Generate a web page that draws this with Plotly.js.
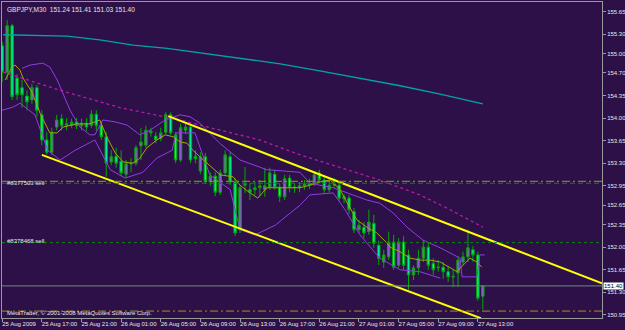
<!DOCTYPE html>
<html><head><meta charset="utf-8">
<script src="https://cdn.plot.ly/plotly-3.0.1.min.js"></script>
<style>html,body{margin:0;padding:0;background:#2d1048;}#chart{width:625px;height:330px;}</style>
</head><body><div id="chart"></div>
<script>
// ---- data (GBPJPY M30, 25-27 Aug 2009) ----
const headerText = "GBPJPY,M30  151.24 151.41 151.03 151.40";
const copyrightText = "MetaTrader, \u00a9 2001-2008 MetaQuotes Software Corp.";

const openP = [155.12,154.71,155.43,154.62,154.47,154.34,154.28,154.47,154.05,153.66,
153.47,153.86,153.99,153.89,153.89,153.94,153.88,153.92,153.89,154.06,
153.88,153.71,153.32,153.41,153.33,153.13,153.29,153.30,153.57,153.58,
153.77,153.72,153.68,153.78,154.05,153.74,153.35,153.81,153.86,153.41,
153.18,153.40,153.01,153.10,152.85,153.15,153.40,153.01,152.27,152.96,
152.89,152.89,152.92,152.89,152.93,153.13,152.93,152.78,153.07,152.92,
152.95,152.95,152.98,152.99,153.15,153.04,152.89,152.96,152.96,152.78,
152.76,152.55,152.27,152.31,152.24,152.37,152.03,151.77,151.85,152.08,
151.72,152.08,151.88,151.57,151.68,151.83,152.00,151.75,151.68,151.69,
151.62,151.55,151.60,151.77,151.85,151.96,151.88,151.24];
const highP = [155.18,155.52,155.46,154.68,154.59,154.43,154.53,154.51,154.12,153.78,
153.85,154.05,154.06,154.00,153.99,154.00,153.99,154.00,154.12,154.12,
153.94,153.78,153.50,153.54,153.50,153.35,153.38,153.58,153.85,153.88,
153.85,153.78,153.85,154.09,154.09,153.78,153.91,153.91,153.91,153.50,
153.47,153.46,153.16,153.16,153.20,153.50,153.47,153.07,152.96,153.24,
152.99,153.01,153.04,153.23,153.23,153.20,152.99,153.12,153.12,152.99,
153.01,153.04,153.06,153.16,153.20,153.10,153.02,153.07,153.01,152.82,
152.81,152.61,152.42,152.39,152.58,152.50,152.10,151.96,152.24,152.19,
152.14,152.17,151.96,151.72,151.96,152.11,152.08,151.83,151.80,151.77,
151.71,151.65,151.86,151.93,152.27,152.02,151.93,151.41];
const lowP = [154.56,154.59,154.28,154.28,154.16,154.12,154.22,154.02,153.58,153.43,
153.43,153.81,153.81,153.81,153.85,153.83,153.81,153.80,153.85,153.81,
153.66,153.09,153.27,153.23,153.10,153.07,153.16,153.26,153.35,153.54,
153.71,153.61,153.64,153.75,153.74,153.30,153.32,153.75,153.30,153.30,
153.13,152.98,152.95,152.79,152.81,153.10,152.96,152.17,152.22,152.84,
152.73,152.81,152.79,152.78,152.89,152.89,152.70,152.73,152.85,152.84,
152.85,152.89,152.90,152.95,152.99,152.84,152.85,152.92,152.72,152.68,
152.51,152.22,152.22,152.14,152.19,151.99,151.72,151.68,151.80,151.65,
151.68,151.65,151.34,151.49,151.57,151.77,151.65,151.57,151.62,151.51,
151.46,151.38,151.38,151.72,151.77,151.77,151.17,151.03];
const closeP = [154.71,155.43,154.33,154.36,154.36,154.25,154.47,154.12,153.66,153.47,
153.78,153.97,153.88,153.91,153.94,153.88,153.92,153.86,154.06,153.88,
153.71,153.30,153.40,153.30,153.15,153.29,153.30,153.54,153.63,153.81,
153.80,153.66,153.77,154.05,153.77,153.35,153.85,153.86,153.35,153.37,
153.40,153.02,153.10,152.85,153.15,153.43,153.01,152.22,152.92,152.99,
152.85,152.92,152.95,152.95,153.15,152.93,152.78,153.06,152.92,152.93,
152.93,152.98,152.96,153.12,153.04,152.89,152.96,152.98,152.76,152.75,
152.58,152.27,152.34,152.22,152.39,152.06,151.83,151.88,152.08,151.69,
152.08,151.72,151.57,151.68,151.83,152.00,151.72,151.65,151.69,151.62,
151.54,151.54,151.80,151.85,151.99,151.88,151.21,151.40];

// indicator lines (bar index, price) read at sample points
const maLongIdx = [0.2,8.2,13.1,19.7,26.4,33.3,39.9,48.0,56.1,64.1,72.2,80.3,88.4,97.0];
const maLongVal = [155.29,155.28,155.27,155.21,155.13,155.08,155.01,154.93,154.84,154.73,154.62,154.50,154.37,154.22];
const maMidIdx = [0.2,11.7,23.8,35.9,39.9,52.0,60.1,68.2,76.2,84.3,90.4,97.0];
const maMidVal = [154.71,154.43,154.16,153.97,153.89,153.66,153.43,153.23,153.04,152.81,152.58,152.31];
const maFastIdx = [0.6,2.0,2.6,3.6,4.2,6.0,7.2,7.6,9.6,11.1,12.3,15.1,17.7,19.7,21.1,22.8,24.4,26.4,27.8,29.2,31.2,32.9,34.5,35.9,37.3,38.5,39.9,41.9,44.0,46.6,48.0,50.0,51.6,53.4,56.7,60.1,62.1,64.1,66.2,68.2,69.6,71.6,73.6,75.6,77.7,78.3,80.3,82.3,84.3,86.3,88.4,90.4,91.8,93.0,94.4,95.8,96.8];
const maFastVal = [154.59,154.79,154.82,154.74,154.62,154.40,154.17,154.08,153.77,153.77,153.86,153.91,153.91,153.97,153.71,153.46,153.32,153.30,153.38,153.54,153.66,153.74,153.71,153.63,153.61,153.50,153.40,153.27,153.12,153.09,152.96,152.84,152.76,152.92,152.92,152.92,152.96,153.01,153.04,152.89,152.69,152.42,152.31,152.22,152.06,152.00,151.93,151.83,151.80,151.80,151.77,151.68,151.62,151.72,151.83,151.77,151.69];
const bandUpIdx = [4.0,5.6,8.2,9.6,11.1,12.1,13.7,15.7,17.7,18.7,20.3,22.8,25.2,27.8,29.8,32.9,35.9,37.9,39.9,43.9,48.0,53.4,60.1,62.1,66.8,73.6,76.2,78.9,81.7,84.9,88.4,92.4,92.8,95.8,96.4,97.4];
const bandUpVal = [154.77,154.82,154.85,154.79,154.59,154.40,154.12,153.86,153.74,153.74,153.97,153.94,153.89,153.74,153.81,153.97,154.05,154.02,153.92,153.61,153.35,153.20,153.16,152.99,152.92,152.73,152.68,152.53,152.31,152.11,151.99,151.83,151.54,151.54,151.88,151.88];
const bandLoIdx = [0,2.2,3.6,6.6,9.2,11.7,14.7,18.7,21.8,24.8,28.4,31.2,34.3,35.1,38.9,41.9,46.0,48.0,51.0,55.1,60.1,62.1,66.8,69.2,72.2,76.2,80.3,84.3,88.4];
const bandLoVal = [154.12,154.17,154.23,154.05,153.50,153.35,153.50,153.66,153.20,153.07,153.16,153.38,153.50,153.77,153.77,153.12,152.89,152.27,152.19,152.34,152.65,152.81,152.84,152.58,152.19,151.83,151.65,151.62,151.52];

// hand-drawn trend channel
const chanUpIdx = [33.5,121.05], chanUpVal = [154.03,151.44];
const chanLoIdx = [8.0,96.6],   chanLoVal = [153.43,150.90];

// order / price levels
const levelPrices = [153.02,152.99,152.07,151.01,151.40];
const orderLabels = ["#8377503 sell","#8378468 sell"];
const orderLabelPrices = [153.00,152.09];
const bidPrice = 151.40;

const yTicks = [155.65,155.30,155.00,154.70,154.35,154.00,153.65,153.30,152.95,152.65,152.35,152.00,151.65,151.30,150.95];
const xTickIdx = [0,8,16,24,32,40,48,56,64,72,80,88,96];
const xTickText = ["25 Aug 2009","25 Aug 17:00","25 Aug 21:00","26 Aug 01:00","26 Aug 05:00","26 Aug 09:00","26 Aug 13:00","26 Aug 17:00","26 Aug 21:00","27 Aug 01:00","27 Aug 05:00","27 Aug 09:00","27 Aug 13:00"];

// ---- drawing ----
const barIdx = openP.map((_, i) => i);
const BG = '#2d1048', FRAME = '#9a9a9a', TXT = '#e6e6e6', WICK = '#00a800';
const fontFam = 'Liberation Sans, Arial, sans-serif';

const traces = [
  {type:'scatter', mode:'lines', x:maLongIdx, y:maLongVal, line:{color:'#00a4a4', width:1.3}, hoverinfo:'skip'},
  {type:'candlestick', x:barIdx, open:openP, high:highP, low:lowP, close:closeP,
   increasing:{line:{color:WICK, width:1}, fillcolor:'#9058d8'},
   decreasing:{line:{color:WICK, width:1}, fillcolor:'#00f0a0'},
   whiskerwidth:0, hoverinfo:'skip'},
  {type:'scatter', mode:'lines', x:maMidIdx, y:maMidVal, line:{color:'#b81aa8', width:1.3, dash:'dot'}, hoverinfo:'skip'},
  {type:'scatter', mode:'lines', x:bandUpIdx, y:bandUpVal, line:{color:'#8e3ee0', width:1}, hoverinfo:'skip'},
  {type:'scatter', mode:'lines', x:bandLoIdx, y:bandLoVal, line:{color:'#8e3ee0', width:1}, hoverinfo:'skip'},
  {type:'scatter', mode:'lines', x:maFastIdx, y:maFastVal, line:{color:'#a6a600', width:1}, hoverinfo:'skip'},
  {type:'scatter', mode:'lines', x:chanUpIdx, y:chanUpVal, line:{color:'#ffff00', width:2}, hoverinfo:'skip'},
  {type:'scatter', mode:'lines', x:chanLoIdx, y:chanLoVal, line:{color:'#ffff00', width:2}, hoverinfo:'skip'}
];

const levelStyles = [
  {color:'#9a9a10', dash:'8px,3px,2px,3px', width:1},
  {color:'#0a8a0a', dash:'5px,3px', width:1},
  {color:'#0a8a0a', dash:'3px,3px', width:1},
  {color:'#9a9a10', dash:'8px,3px,2px,3px', width:1},
  {color:'#6f8a80', dash:'solid', width:1}
];
const shapes = levelPrices.map((p, k) => ({
  type:'line', xref:'paper', x0:0, x1:1, yref:'y', y0:p, y1:p,
  line:levelStyles[k], layer:'above'
}));

const annotations = [
  {xref:'paper', yref:'paper', x:0.005, y:0.995, xanchor:'left', yanchor:'top', showarrow:false,
   text:headerText, font:{family:fontFam, size:6.5, color:TXT}},
  {xref:'paper', yref:'paper', x:0.005, y:0.0, xanchor:'left', yanchor:'bottom', showarrow:false,
   text:copyrightText, font:{family:fontFam, size:6, color:TXT}},
  {xref:'paper', yref:'y', x:1, y:bidPrice, xanchor:'left', yanchor:'middle', xshift:1, showarrow:false,
   text:bidPrice.toFixed(2), bgcolor:'#ffffff', borderpad:0, font:{family:fontFam, size:6, color:'#000000'}}
].concat(orderLabels.map((t, k) => ({
  xref:'paper', yref:'y', x:0.005, y:orderLabelPrices[k], xanchor:'left', yanchor:'middle', showarrow:false,
  text:t, font:{family:fontFam, size:6, color:TXT}
})));

const layout = {
  width:625, height:330,
  margin:{l:2, r:23, t:2, b:12, pad:0},
  paper_bgcolor:BG, plot_bgcolor:BG, showlegend:false,
  font:{family:fontFam, size:6, color:TXT},
  xaxis:{range:[-0.04,121.05], tickmode:'array', tickvals:xTickIdx, ticktext:xTickText,
    tickangle:0, ticks:'outside', ticklen:3, tickcolor:FRAME, ticklabelposition:'outside right', ticklabelshift:-1,
    showgrid:false, zeroline:false, showline:true, mirror:true, linecolor:FRAME, linewidth:1,
    rangeslider:{visible:false}, fixedrange:true, automargin:false, tickfont:{family:fontFam, size:6, color:TXT}},
  yaxis:{range:[150.903,155.797], side:'right', tickmode:'array', tickvals:yTicks, ticktext:yTicks.map(v => v.toFixed(2)),
    ticks:'outside', ticklen:3, tickcolor:FRAME, showgrid:false, zeroline:false, showline:true, mirror:true,
    linecolor:FRAME, linewidth:1, fixedrange:true, automargin:false, tickfont:{family:fontFam, size:6, color:TXT}},
  shapes:shapes, annotations:annotations
};

Plotly.newPlot('chart', traces, layout, {staticPlot:true, displayModeBar:false});
</script>
</body></html>
